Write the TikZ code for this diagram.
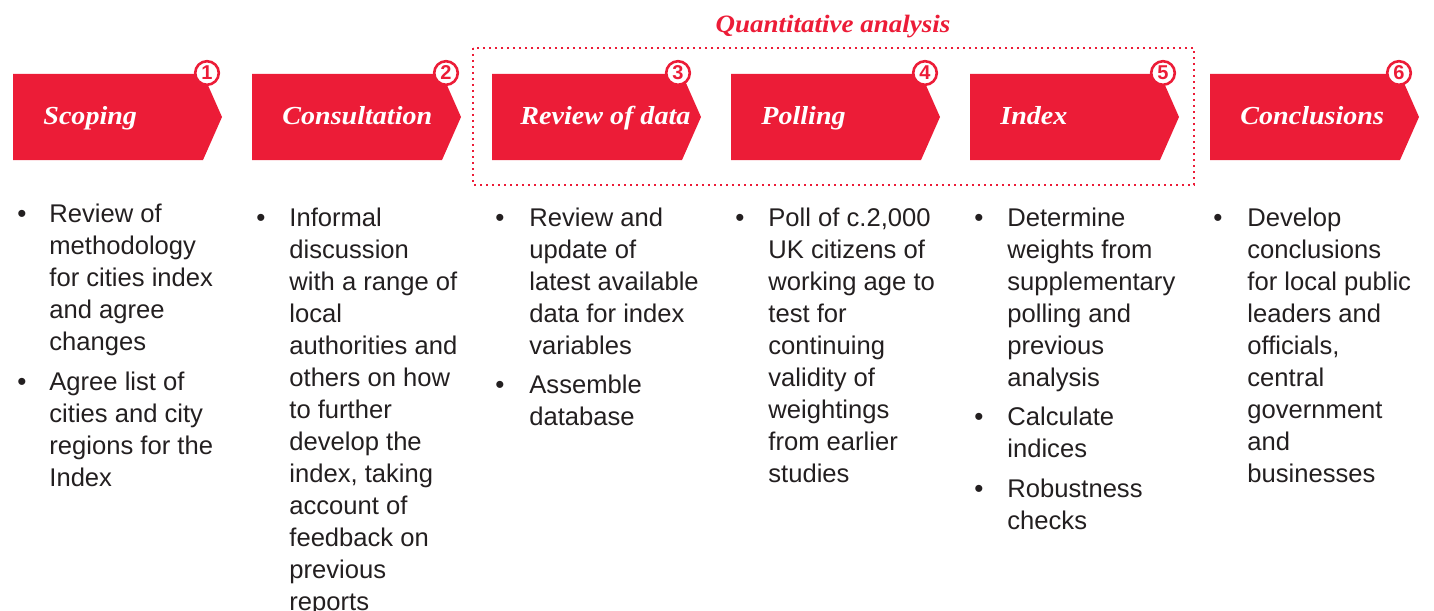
\documentclass[tikz,border=0pt]{standalone}
\usepackage{fontspec}
\setmainfont{Liberation Sans}
\newfontfamily\headserif[FakeStretch=1.08]{Liberation Serif}
\definecolor{pwred}{RGB}{236,28,55}
\definecolor{bodygrey}{RGB}{35,31,32}

\begin{document}
\begin{tikzpicture}[x=0.5pt,y=-0.5pt,
	stagebox/.style={fill=pwred},
	stagelabel/.style={anchor=base west, inner sep=0pt, text=white, font=\headserif\bfseries\itshape\fontsize{13}{15}\selectfont},
	stepnum/.style={circle, draw=pwred, line width=1.3pt, fill=white, minimum size=11.8pt, inner sep=0pt, text=pwred, font=\bfseries\fontsize{10}{10}\selectfont},
	dot/.style={anchor=base, inner sep=0pt, text=bodygrey, font=\fontsize{13}{16}\selectfont},
	itemtext/.style={anchor=base west, inner sep=0pt, align=left, text=bodygrey, font=\fontsize{12.8}{16}\selectfont}]
				\useasboundingbox (0,0) rectangle (1434,610);

				% 点線の枠
				\draw[pwred, line width=1pt, dash pattern=on 1pt off 2pt] (473,48) rectangle (1194,185);
				\node[anchor=base, inner sep=0pt, text=pwred, font=\headserif\bfseries\itshape\fontsize{12.5}{14}\selectfont] (quant) at (833,33) {Quantitative analysis};

				% 矢印
				\fill[stagebox] (13,74) -- (203,74) -- (222,117) -- (203,160) -- (13,160) -- cycle;
				\fill[stagebox] (252,74) -- (442,74) -- (461,117) -- (442,160) -- (252,160) -- cycle;
				\fill[stagebox] (492,74) -- (682,74) -- (701,117) -- (682,160) -- (492,160) -- cycle;
				\fill[stagebox] (731,74) -- (921,74) -- (940,117) -- (921,160) -- (731,160) -- cycle;
				\fill[stagebox] (970,74) -- (1160,74) -- (1179,117) -- (1160,160) -- (970,160) -- cycle;
				\fill[stagebox] (1210,74) -- (1400,74) -- (1419,117) -- (1400,160) -- (1210,160) -- cycle;

				% 見出し
				\node[stagelabel] (scoping) at (43,125) {Scoping};
				\node[stagelabel] (consult) at (282,125) {Consultation};
				\node[stagelabel] (review) at (520,125) {Review of data};
				\node[stagelabel] (polling) at (761,125) {Polling};
				\node[stagelabel] (index) at (1000,125) {Index};
				\node[stagelabel] (concl) at (1240,125) {Conclusions};

				% 番号
				\node[stepnum] (n1) at (207,73) {1};
				\node[stepnum] (n2) at (446,73) {2};
				\node[stepnum] (n3) at (678,73) {3};
				\node[stepnum] (n4) at (925,73) {4};
				\node[stepnum] (n5) at (1163,73) {5};
				\node[stepnum] (n6) at (1399,73) {6};

				% 本文 (テキストは最終行のベースラインで置く)
				\node[dot] (b1a) at (22,222) {•};
				\node[itemtext] (t1a) at (49,350) {Review of\\methodology\\for cities index\\and agree\\changes};
				\node[dot] (b1b) at (22,390) {•};
				\node[itemtext] (t1b) at (49,486) {Agree list of\\cities and city\\regions for the\\Index};

				\node[dot] (b2a) at (261,226) {•};
				\node[itemtext] (t2a) at (289,610) {Informal\\discussion\\with a range of\\local\\authorities and\\others on how\\to further\\develop the\\index, taking\\account of\\feedback on\\previous\\reports};

				\node[dot] (b3a) at (500,226) {•};
				\node[itemtext] (t3a) at (529,354) {Review and\\update of\\latest available\\data for index\\variables};
				\node[dot] (b3b) at (500,393) {•};
				\node[itemtext] (t3b) at (529,425) {Assemble\\database};

				\node[dot] (b4a) at (740,226) {•};
				\node[itemtext] (t4a) at (768,482) {Poll of c.2,000\\UK citizens of\\working age to\\test for\\continuing\\validity of\\weightings\\from earlier\\studies};

				\node[dot] (b5a) at (979,226) {•};
				\node[itemtext] (t5a) at (1007,386) {Determine\\weights from\\supplementary\\polling and\\previous\\analysis};
				\node[dot] (b5b) at (979,425) {•};
				\node[itemtext] (t5b) at (1007,457) {Calculate\\indices};
				\node[dot] (b5c) at (979,497) {•};
				\node[itemtext] (t5c) at (1007,529) {Robustness\\checks};

				\node[dot] (b6a) at (1218,226) {•};
				\node[itemtext] (t6a) at (1247,482) {Develop\\conclusions\\for local public\\leaders and\\officials,\\central\\government\\and\\businesses};

			\end{tikzpicture}
\end{document}
